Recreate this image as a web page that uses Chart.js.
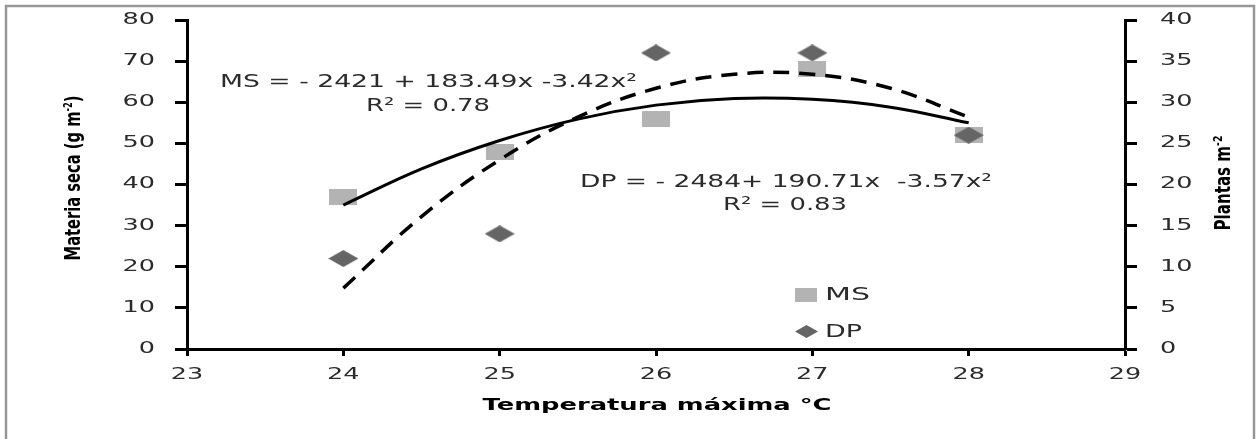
<!DOCTYPE html>
<html>
<head>
<meta charset="utf-8">
<script src="https://cdn.jsdelivr.net/npm/chart.js@4.4.0/dist/chart.umd.min.js"></script>
<style>
  html, body { margin: 0; padding: 0; background: #fff; }
</style>
</head>
<body>
<canvas id="chart" width="1256" height="439"></canvas>
<script>
// observed points
const temps = [24, 25, 26, 27, 28];
const msValues = [37, 48, 56, 68, 52];
const dpValues = [11, 14, 36, 36, 26];

// trend lines
const curveX = [24, 24.5, 25, 25.5, 26, 26.5, 27, 27.5, 28];
const msCurve = [35, 43.8, 50.7, 55.9, 59.3, 60.9, 60.7, 58.8, 55];
const dpCurve = [7.4, 16.1, 23, 28.2, 31.7, 33.4, 33.4, 31.7, 28.2];

// tick labels
const xTicks = [23, 24, 25, 26, 27, 28, 29];
const leftTicks = [0, 10, 20, 30, 40, 50, 60, 70, 80];
const rightTicks = [0, 5, 10, 15, 20, 25, 30, 35, 40];

const textColor = '#2b2b2b';

function makeMarker(w, h, color, shape) {
  const c = document.createElement('canvas');
  c.width = w; c.height = h;
  const g = c.getContext('2d');
  g.fillStyle = color;
  if (shape === 'diamond') {
    g.beginPath();
    g.moveTo(w / 2, 0); g.lineTo(w, h / 2); g.lineTo(w / 2, h); g.lineTo(0, h / 2);
    g.closePath(); g.fill();
  } else {
    g.fillRect(0, 0, w, h);
  }
  return c;
}

const msMarker = makeMarker(28, 16, '#b3b3b3', 'rect');
const dpMarker = makeMarker(30, 17, '#656565', 'diamond');
const msLegend = makeMarker(22, 14, '#b3b3b3', 'rect');
const dpLegend = makeMarker(23, 13, '#656565', 'diamond');

// text stretched horizontally to a given width
function fitText(ctx, txt, x, y, w, font, align) {
  ctx.save();
  ctx.font = font;
  ctx.fillStyle = textColor;
  ctx.textBaseline = 'middle';
  ctx.textAlign = 'left';
  const m = ctx.measureText(txt).width;
  const x0 = align === 'center' ? x - w / 2 : (align === 'right' ? x - w : x);
  ctx.translate(x0, y);
  ctx.scale(w / m, 1);
  ctx.fillText(txt, 0, 0);
  ctx.restore();
}

function stretchText(ctx, txt, x, y, sx, font, align) {
  ctx.save();
  ctx.font = font;
  ctx.fillStyle = textColor;
  ctx.textBaseline = 'middle';
  ctx.textAlign = 'left';
  const w = ctx.measureText(txt).width * sx;
  const x0 = align === 'center' ? x - w / 2 : (align === 'right' ? x - w : x);
  ctx.translate(x0, y);
  ctx.scale(sx, 1);
  ctx.fillText(txt, 0, 0);
  ctx.restore();
}

// title with a superscript part, fitted to a length, optionally rotated
function drawTitle(ctx, segs, cx, cy, len, rot, font, supFont) {
  ctx.save();
  ctx.fillStyle = '#000';
  ctx.textBaseline = 'middle';
  ctx.textAlign = 'left';
  let total = 0;
  const widths = segs.map(s => {
    ctx.font = s.sup ? supFont : font;
    const w = ctx.measureText(s.t).width;
    total += w;
    return w;
  });
  ctx.translate(cx, cy);
  ctx.rotate(rot);
  ctx.scale(len / total, 1);
  let x = -total / 2;
  segs.forEach((s, i) => {
    ctx.font = s.sup ? supFont : font;
    ctx.fillText(s.t, x, s.sup ? -6 : 0);
    x += widths[i];
  });
  ctx.restore();
}

const labelsPlugin = {
  id: 'labels',
  afterDraw(chart) {
    const ctx = chart.ctx;
    const { x, y, y1 } = chart.scales;
    const tickFont = '15px "DejaVu Sans"';

    xTicks.forEach(v => stretchText(ctx, String(v), x.getPixelForValue(v), 375, 1.7, tickFont, 'center'));
    leftTicks.forEach(v => stretchText(ctx, String(v), 155, y.getPixelForValue(v), 1.7, tickFont, 'right'));
    rightTicks.forEach(v => stretchText(ctx, String(v), 1160, y1.getPixelForValue(v), 1.7, tickFont, 'left'));

    // axis titles
    drawTitle(ctx, [{ t: 'Materia seca (g m' }, { t: '-2', sup: true }, { t: ')' }],
      75, 178, 165, -Math.PI / 2, 'bold 21px "Liberation Sans Narrow", "DejaVu Sans Condensed", sans-serif',
      'bold 12px "Liberation Sans Narrow", "DejaVu Sans Condensed", sans-serif');
    drawTitle(ctx, [{ t: 'Plantas m' }, { t: '-2', sup: true }],
      1225, 183, 95, -Math.PI / 2, 'bold 21px "Liberation Sans Narrow", "DejaVu Sans Condensed", sans-serif',
      'bold 13px "Liberation Sans Narrow", "DejaVu Sans Condensed", sans-serif');
    ctx.save();
    ctx.fillStyle = '#000';
    ctx.font = 'bold 16px "DejaVu Sans"';
    ctx.textBaseline = 'middle';
    const tw = ctx.measureText('Temperatura máxima °C').width;
    ctx.translate(657 - 349 / 2, 406);
    ctx.scale(349 / tw, 1);
    ctx.fillText('Temperatura máxima °C', 0, 0);
    ctx.restore();

    // regression equations
    const eqFont = '18px "DejaVu Sans"';
    fitText(ctx, 'MS = - 2421 + 183.49x -3.42x²', 220, 82, 417, eqFont, 'left');
    fitText(ctx, 'R² = 0.78', 366, 106, 124, eqFont, 'left');
    fitText(ctx, 'DP = - 2484+ 190.71x  -3.57x²', 580, 182, 412, eqFont, 'left');
    fitText(ctx, 'R² = 0.83', 723, 205, 124, eqFont, 'left');

    // legend
    ctx.drawImage(msLegend, 795, 288);
    ctx.drawImage(dpLegend, 795, 325);
    fitText(ctx, 'MS', 825, 295, 45, eqFont, 'left');
    fitText(ctx, 'DP', 825, 332, 37, eqFont, 'left');

    // outer frame (bottom edge runs past the picture)
    ctx.save();
    ctx.strokeStyle = '#969696';
    ctx.lineWidth = 2.5;
    ctx.strokeRect(6, 6, 1248, 440);
    ctx.restore();
  }
};

function axisGrid(len) {
  return {
    drawOnChartArea: false,
    drawTicks: true,
    tickLength: len,
    tickWidth: 3,
    tickColor: '#000'
  };
}

new Chart(document.getElementById('chart'), {
  type: 'scatter',
  data: {
    datasets: [
      {
        label: 'MS trend',
        data: curveX.map((v, i) => ({ x: v, y: msCurve[i] })),
        yAxisID: 'y',
        showLine: true,
        borderColor: '#000',
        borderWidth: 3,
        pointRadius: 0,
        tension: 0.4,
        order: 0
      },
      {
        label: 'DP trend',
        data: curveX.map((v, i) => ({ x: v, y: dpCurve[i] })),
        yAxisID: 'y1',
        showLine: true,
        borderColor: '#000',
        borderWidth: 3.5,
        borderDash: [16, 10],
        pointRadius: 0,
        tension: 0.4,
        order: 1
      },
      {
        label: 'DP',
        data: temps.map((v, i) => ({ x: v, y: dpValues[i] })),
        yAxisID: 'y1',
        pointStyle: dpMarker,
        pointRadius: 8,
        order: 2
      },
      {
        label: 'MS',
        data: temps.map((v, i) => ({ x: v, y: msValues[i] })),
        yAxisID: 'y',
        pointStyle: msMarker,
        pointRadius: 8,
        order: 3
      }
    ]
  },
  options: {
    responsive: false,
    animation: false,
    devicePixelRatio: 1,
    layout: { padding: { top: 20, left: 0, right: 0, bottom: 0 } },
    plugins: {
      legend: { display: false },
      tooltip: { enabled: false }
    },
    scales: {
      x: {
        type: 'linear',
        position: 'bottom',
        min: 23, max: 29,
        ticks: { stepSize: 1, color: 'transparent' },
        grid: axisGrid(7),
        border: { display: true, color: '#000', width: 3 },
        afterFit: s => { s.height = 90; }
      },
      y: {
        position: 'left',
        min: 0, max: 80,
        ticks: { stepSize: 10, color: 'transparent' },
        grid: axisGrid(12),
        border: { display: true, color: '#000', width: 3 },
        afterFit: s => { s.width = 187; }
      },
      y1: {
        position: 'right',
        min: 0, max: 40,
        ticks: { stepSize: 5, color: 'transparent' },
        grid: axisGrid(12),
        border: { display: true, color: '#000', width: 3 },
        afterFit: s => { s.width = 131; }
      }
    }
  },
  plugins: [labelsPlugin]
});
</script>
</body>
</html>
